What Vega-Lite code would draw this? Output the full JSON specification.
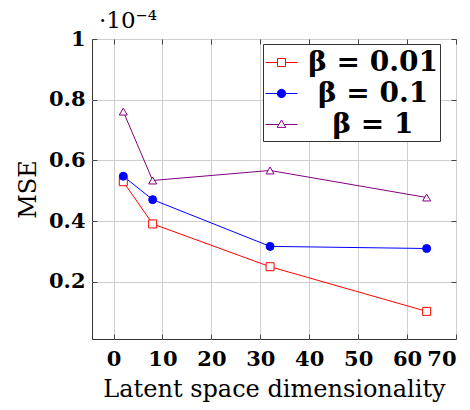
{
  "$schema": "https://vega.github.io/schema/vega-lite/v6.json",
  "width": 364,
  "height": 300,
  "autosize": "none",
  "padding": {"left": 92, "top": 39, "right": 14, "bottom": 71},
  "background": "white",
  "title": {"text": "·10⁻⁴", "anchor": "start", "frame": "group", "font": "DejaVu Serif", "fontSize": 23, "fontWeight": "normal", "color": "black", "baseline": "alphabetic", "offset": -23, "dx": 7},
  "config": {"view": {"stroke": "#333333", "strokeWidth": 1}, "font": "DejaVu Serif"},
  "data": {"values": [
    {"dim": 2, "mse": 0.53, "beta": "β = 0.01"},
    {"dim": 8, "mse": 0.391, "beta": "β = 0.01"},
    {"dim": 32, "mse": 0.25, "beta": "β = 0.01"},
    {"dim": 64, "mse": 0.103, "beta": "β = 0.01"},
    {"dim": 2, "mse": 0.548, "beta": "β = 0.1"},
    {"dim": 8, "mse": 0.471, "beta": "β = 0.1"},
    {"dim": 32, "mse": 0.317, "beta": "β = 0.1"},
    {"dim": 64, "mse": 0.31, "beta": "β = 0.1"},
    {"dim": 2, "mse": 0.761, "beta": "β = 1"},
    {"dim": 8, "mse": 0.534, "beta": "β = 1"},
    {"dim": 32, "mse": 0.567, "beta": "β = 1"},
    {"dim": 64, "mse": 0.478, "beta": "β = 1"}
  ]},
  "resolve": {
    "scale": {"shape": "independent", "stroke": "independent", "fill": "independent"},
    "axis": {"x": "independent", "y": "independent"}
  },
  "layer": [
    {
      "mark": {"type": "line", "strokeWidth": 1, "clip": true},
      "encoding": {
        "x": {"field": "dim", "type": "quantitative",
          "scale": {"domain": [-4.4, 70], "nice": false, "zero": false},
          "axis": {"orient": "bottom", "values": [0, 10, 20, 30, 40, 50, 60, 70], "grid": true, "gridColor": "#cfcfcf", "gridWidth": 1, "domain": false, "tickSize": -5, "tickColor": "#444444", "labelFont": "DejaVu Serif", "labelFontWeight": "bold", "labelFontSize": 21, "labelColor": "black", "labelPadding": 14, "title": "Latent space dimensionality", "titleFont": "DejaVu Serif", "titleFontWeight": "normal", "titleFontSize": 24, "titleColor": "black", "titlePadding": 8}},
        "y": {"field": "mse", "type": "quantitative",
          "scale": {"domain": [0.012, 1], "nice": false, "zero": false},
          "axis": {"orient": "left", "values": [0.2, 0.4, 0.6, 0.8, 1], "format": "~g", "grid": true, "gridColor": "#cfcfcf", "gridWidth": 1, "domain": false, "tickSize": -5, "tickColor": "#444444", "labelFont": "DejaVu Serif", "labelFontWeight": "bold", "labelFontSize": 21, "labelColor": "black", "labelPadding": 12, "title": "MSE", "titleFont": "DejaVu Serif", "titleFontWeight": "normal", "titleFontSize": 24, "titleColor": "black", "titlePadding": 8}},
        "stroke": {"field": "beta", "type": "nominal", "scale": {"domain": ["β = 0.01", "β = 0.1", "β = 1"], "range": ["#ff0000", "#0000ff", "#800080"]}, "legend": null}
      }
    },
    {
      "mark": {"type": "point", "filled": true, "strokeWidth": 1, "size": 64, "opacity": 1},
      "encoding": {
        "x": {"field": "dim", "type": "quantitative",
          "scale": {"domain": [-4.4, 70], "nice": false, "zero": false},
          "axis": {"orient": "top", "values": [0, 10, 20, 30, 40, 50, 60, 70], "grid": false, "domain": false, "labels": false, "tickSize": -5, "tickColor": "#444444", "title": null}},
        "y": {"field": "mse", "type": "quantitative",
          "scale": {"domain": [0.012, 1], "nice": false, "zero": false},
          "axis": {"orient": "right", "values": [0.2, 0.4, 0.6, 0.8, 1], "grid": false, "domain": false, "labels": false, "tickSize": -5, "tickColor": "#444444", "title": null}},
        "shape": {"field": "beta", "type": "nominal", "scale": {"domain": ["β = 0.01", "β = 0.1", "β = 1"], "range": ["square", "circle", "triangle-up"]}, "legend": null},
        "stroke": {"field": "beta", "type": "nominal", "scale": {"domain": ["β = 0.01", "β = 0.1", "β = 1"], "range": ["#ff0000", "#0000ff", "#800080"]}, "legend": null},
        "fill": {"field": "beta", "type": "nominal", "scale": {"domain": ["β = 0.01", "β = 0.1", "β = 1"], "range": ["white", "#0000ff", "white"]}, "legend": null}
      }
    },
    {
      "transform": [{"filter": "datum.dim < -100"}],
      "mark": {"type": "point", "filled": true, "strokeWidth": 1, "opacity": 1},
      "encoding": {
        "shape": {"field": "beta", "type": "nominal", "scale": {"domain": ["β = 0.01", "β = 0.1", "β = 1"], "range": [
          "M-1,0H-0.25M0.25,0H1M-0.25,-0.25H0.25V0.25H-0.25Z",
          "M-1,0H-0.26M0.26,0H1M-0.26,0A0.26,0.26 0 1,0 0.26,0A0.26,0.26 0 1,0 -0.26,0Z",
          "M-1,0H-0.16M0.16,0H1M0,-0.28L0.27,0.18H-0.27Z"]},
          "legend": {"orient": "none", "legendX": 171, "legendY": 5, "title": null, "labelFont": "DejaVu Serif", "labelFontWeight": "bold", "labelFontSize": 28, "labelColor": "black", "labelAlign": "center", "symbolSize": 1024, "symbolStrokeWidth": 1, "symbolOpacity": 1, "padding": 2, "rowPadding": 0, "labelOffset": 75, "strokeColor": "#333333", "fillColor": "white"}},
        "stroke": {"field": "beta", "type": "nominal", "scale": {"domain": ["β = 0.01", "β = 0.1", "β = 1"], "range": ["#ff0000", "#0000ff", "#800080"]},
          "legend": {"orient": "none", "legendX": 171, "legendY": 5, "title": null, "labelFont": "DejaVu Serif", "labelFontWeight": "bold", "labelFontSize": 28, "labelColor": "black", "labelAlign": "center", "symbolSize": 1024, "symbolStrokeWidth": 1, "symbolOpacity": 1, "padding": 2, "rowPadding": 0, "labelOffset": 75, "strokeColor": "#333333", "fillColor": "white"}},
        "fill": {"field": "beta", "type": "nominal", "scale": {"domain": ["β = 0.01", "β = 0.1", "β = 1"], "range": ["white", "#0000ff", "white"]},
          "legend": {"orient": "none", "legendX": 171, "legendY": 5, "title": null, "labelFont": "DejaVu Serif", "labelFontWeight": "bold", "labelFontSize": 28, "labelColor": "black", "labelAlign": "center", "symbolSize": 1024, "symbolStrokeWidth": 1, "symbolOpacity": 1, "padding": 2, "rowPadding": 0, "labelOffset": 75, "strokeColor": "#333333", "fillColor": "white"}}
      }
    }
  ]
}
